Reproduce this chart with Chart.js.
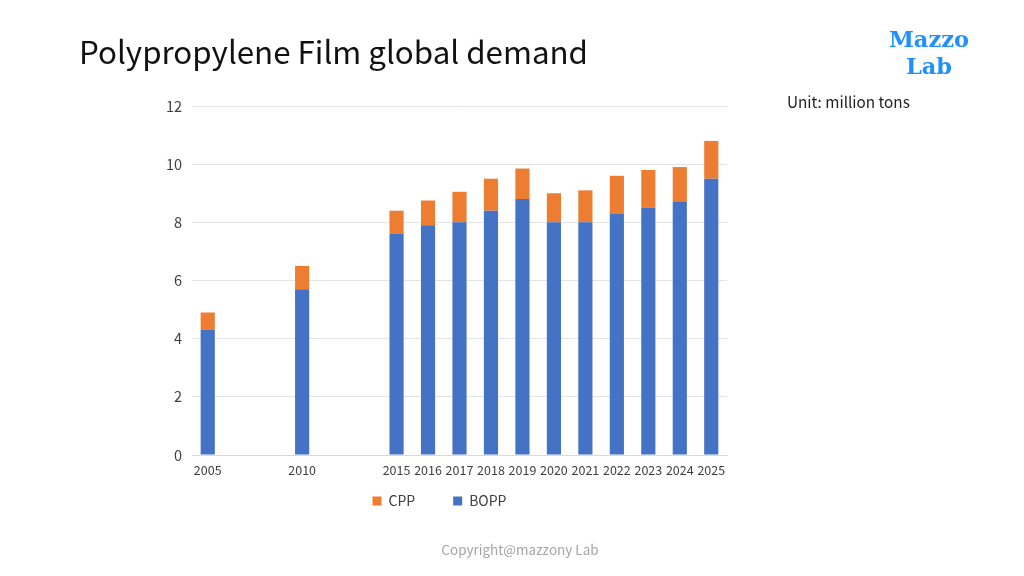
<!DOCTYPE html>
<html>
<head>
<meta charset="utf-8">
<script src="https://cdn.jsdelivr.net/npm/chart.js@4"></script>
<style>
  html,body{margin:0;padding:0;background:#fff;}
  #wrap{position:relative;width:1024px;height:576px;overflow:hidden;}
  #c{position:absolute;left:0;top:0;}
  .t{position:absolute;white-space:nowrap;}
  #title{left:79px;top:28px;font-family:"Noto Sans CJK JP","Noto Sans",sans-serif;font-size:31.3px;color:#111;}
  #unit{left:787px;top:90px;font-family:"Noto Sans CJK JP","Noto Sans",sans-serif;font-size:15.3px;color:#222;}
  #logo{left:869px;top:26px;width:120px;text-align:center;font-family:"DejaVu Serif","Liberation Serif",serif;font-weight:bold;font-size:22.5px;line-height:27px;color:#1E90FF;}
  #copy{left:0;width:1040px;top:539px;text-align:center;font-family:"Noto Sans CJK JP","Noto Sans",sans-serif;font-size:13.5px;color:#a6a6a6;}
</style>
</head>
<body>
<div id="wrap">
  <canvas id="c" width="1024" height="576"></canvas>
  <div class="t" id="title">Polypropylene Film global demand</div>
  <div class="t" id="unit">Unit: million tons</div>
  <div class="t" id="logo">Mazzo<br>Lab</div>
  <div class="t" id="copy">Copyright@mazzony Lab</div>
</div>
<script>
const categories = ['2005','','','2010','','','2015','2016','2017','2018','2019','2020','2021','2022','2023','2024','2025'];
const bopp = [4.3,null,null,5.7,null,null,7.6,7.9,8.0,8.4,8.8,8.0,8.0,8.3,8.5,8.7,9.5];
const cpp  = [0.6,null,null,0.8,null,null,0.8,0.85,1.05,1.1,1.05,1.0,1.1,1.3,1.3,1.2,1.3];
const yTicks = [0,2,4,6,8,10,12];

const fontFam = '"Noto Sans CJK JP","Noto Sans",sans-serif';
new Chart(document.getElementById('c'), {
  type: 'bar',
  data: {
    labels: categories,
    datasets: [
      {label:'BOPP', data:bopp, backgroundColor:'#4472C4', borderWidth:0, categoryPercentage:1, barPercentage:0.45},
      {label:'CPP', data:cpp, backgroundColor:'#ED7D31', borderWidth:0, categoryPercentage:1, barPercentage:0.45}
    ]
  },
  options: {
    responsive:false,
    animation:false,
    devicePixelRatio:1,
    layout:{padding:{left:152,right:297,top:106,bottom:58}},
    plugins:{
      legend:{
        position:'bottom',
        reverse:true,
        labels:{
          boxWidth:9,boxHeight:9,padding:10,color:'#404040',font:{family:fontFam,size:14},
          generateLabels:(chart)=>{
            const items = Chart.defaults.plugins.legend.labels.generateLabels(chart);
            items.forEach(it=>{ if(it.text==='CPP') it.text = 'CPP\u2003\u2003'; });
            return items;
          }
        }
      },
      tooltip:{enabled:false}
    },
    scales:{
      x:{
        stacked:true,
        grid:{display:false},
        border:{display:true,color:'#d9d9d9'},
        ticks:{color:'#404040',font:{family:fontFam,size:12.5},maxRotation:0,autoSkip:false,padding:0},
        afterFit:(s)=>{s.height=29;}
      },
      y:{
        stacked:true,
        min:0,max:12,
        afterBuildTicks:(s)=>{s.ticks=yTicks.map(v=>({value:v}));},
        grid:{color:'#e4e4e4',drawTicks:false},
        border:{display:false},
        ticks:{color:'#404040',font:{family:fontFam,size:14.5},padding:10},
        afterFit:(s)=>{s.width=40;}
      }
    }
  }
});
</script>
</body>
</html>
